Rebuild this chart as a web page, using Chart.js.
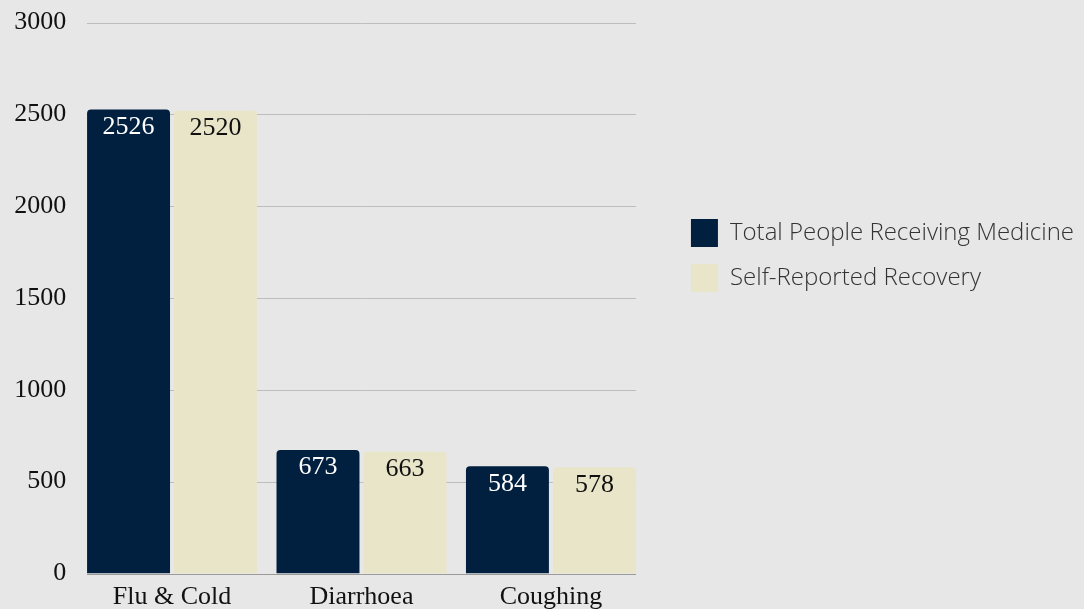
<!DOCTYPE html>
<html>
<head>
<meta charset="utf-8">
<script src="https://cdn.jsdelivr.net/npm/chart.js@4/dist/chart.umd.min.js"></script>
<style>
  html, body { margin: 0; padding: 0; background: #e7e7e7; overflow: hidden; }
  #wrap { width: 1084px; height: 609px; }
</style>
</head>
<body>
<div id="wrap"><canvas id="c" width="1084" height="609"></canvas></div>
<script>
// ---- data ----
const categories = ['Flu & Cold', 'Diarrhoea', 'Coughing'];
const totalReceiving = [2526, 673, 584];
const selfRecovered = [2520, 663, 578];
const seriesNames = ['Total People Receiving Medicine', 'Self-Reported Recovery'];
const yMin = 0, yMax = 3000, yStep = 500;

// ---- styles ----
const NAVY = '#012040';
const BEIGE = '#e9e5c8';
const BG = '#e7e7e7';
const SERIF = "'Liberation Serif', 'Times New Roman', serif";
const SANS = "'Open Sans', 'Noto Sans', sans-serif";

const bgPlugin = {
  id: 'bg',
  beforeDraw(chart) {
    const ctx = chart.ctx;
    ctx.save();
    ctx.fillStyle = BG;
    ctx.fillRect(0, 0, chart.width, chart.height);
    ctx.restore();
  }
};

const gridPlugin = {
  id: 'customGrid',
  beforeDatasetsDraw(chart) {
    const ys = chart.scales.y;
    const ctx = chart.ctx;
    const firstMeta = chart.getDatasetMeta(0).data;
    const lastMeta = chart.getDatasetMeta(chart.data.datasets.length - 1).data;
    const a = firstMeta[0], b = lastMeta[lastMeta.length - 1];
    const x0 = Math.round(a.x - a.width / 2);
    const x1 = Math.round(b.x + b.width / 2);
    ctx.save();
    ctx.lineWidth = 1;
    ys.ticks.forEach(t => {
      const py = Math.round(ys.getPixelForValue(t.value)) + 0.5;
      ctx.strokeStyle = t.value === 0 ? '#9a9a9a' : '#bdbdbd';
      ctx.beginPath();
      ctx.moveTo(x0, py);
      ctx.lineTo(x1, py);
      ctx.stroke();
    });
    ctx.restore();
  }
};

const labelPlugin = {
  id: 'barLabels',
  afterDatasetsDraw(chart) {
    const ctx = chart.ctx;
    ctx.save();
    ctx.font = '26px ' + SERIF;
    ctx.textAlign = 'center';
    ctx.textBaseline = 'alphabetic';
    chart.data.datasets.forEach((ds, di) => {
      const meta = chart.getDatasetMeta(di);
      meta.data.forEach((bar, i) => {
        ctx.fillStyle = di === 0 ? '#ffffff' : '#111111';
        ctx.fillText(String(ds.data[i]), bar.x, bar.y + 24.5);
      });
    });
    ctx.restore();
  }
};

new Chart(document.getElementById('c'), {
  type: 'bar',
  data: {
    labels: categories,
    datasets: [
      { label: seriesNames[0], data: totalReceiving, backgroundColor: NAVY, borderRadius: 4, borderSkipped: 'start' },
      { label: seriesNames[1], data: selfRecovered, backgroundColor: BEIGE, borderRadius: 4, borderSkipped: 'start' }
    ]
  },
  options: {
    responsive: false,
    animation: false,
    devicePixelRatio: 1,
    categoryPercentage: 0.918,
    barPercentage: 0.954,
    layout: { padding: { top: 22.5, bottom: 0, left: 0, right: 0 } },
    plugins: {
      tooltip: { enabled: false },
      legend: {
        position: 'right',
        align: 'start',
        maxWidth: 440,
        title: { display: true, text: '', padding: { top: 165.1, bottom: 0 }, font: { size: 12 } },
        labels: {
          boxWidth: 27,
          boxHeight: 28,
          padding: 17,
          color: '#333333',
          font: { family: SANS, size: 24, weight: '300' }
        }
      }
    },
    scales: {
      x: {
        grid: { display: false, drawTicks: false },
        border: { display: false },
        ticks: { color: '#111111', font: { family: SERIF, size: 26 }, padding: 8 },
        afterFit(s) { s.height = 35.5; }
      },
      y: {
        min: yMin, max: yMax,
        grid: { display: false, drawTicks: false },
        border: { display: false },
        ticks: { stepSize: yStep, color: '#111111', font: { family: SERIF, size: 26 }, padding: 11,
                 callback: v => String(v) },
        afterFit(s) { s.width = 77.3; s.paddingTop = 0; s.paddingBottom = 0; }
      },
      y2: {
        position: 'right',
        display: true,
        grid: { display: false, drawTicks: false },
        border: { display: false },
        ticks: { display: false },
        afterFit(s) { s.width = 28.3; }
      }
    }
  },
  plugins: [bgPlugin, gridPlugin, labelPlugin]
});
</script>
</body>
</html>
